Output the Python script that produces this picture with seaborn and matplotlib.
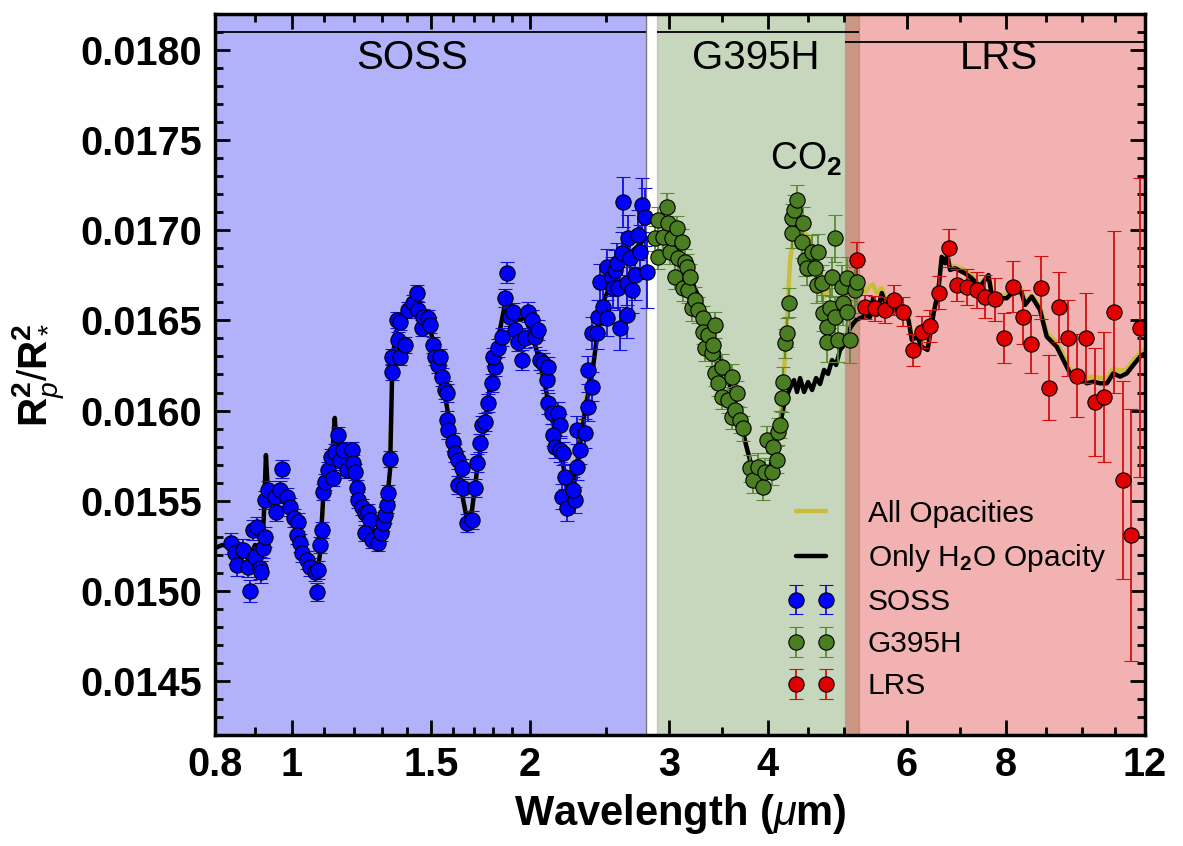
import matplotlib
matplotlib.use('Agg')
import matplotlib.pyplot as plt
import pandas as pd
import seaborn as sns
from matplotlib.lines import Line2D
from matplotlib.ticker import (FixedLocator, FixedFormatter, MultipleLocator,
                               NullFormatter, FormatStrFormatter)

sns.set_theme(style='ticks')
plt.rcParams['font.family'] = ['Liberation Sans', 'DejaVu Sans']
plt.rcParams['mathtext.fontset'] = 'custom'
plt.rcParams['mathtext.rm'] = 'Liberation Sans'
plt.rcParams['mathtext.it'] = 'Liberation Sans:italic'
plt.rcParams['mathtext.bf'] = 'Liberation Sans:bold'
plt.rcParams['text.color'] = 'black'
plt.rcParams['axes.labelcolor'] = 'black'

# NIRISS SOSS spectrum (wavelength in micron, transit depth Rp^2/R*^2)
soss_wl = [0.839, 0.848, 0.852, 0.869, 0.882, 0.886, 0.894, 0.903, 0.899, 0.912,
           0.916, 0.920, 0.925, 0.925, 0.934, 0.953, 0.957, 0.972, 0.967, 0.986,
           0.996, 1.006, 1.020, 1.015, 1.025, 1.030, 1.045, 1.055, 1.071, 1.081,
           1.076, 1.086, 1.091, 1.097, 1.102, 1.112, 1.123, 1.134, 1.128, 1.145,
           1.151, 1.162, 1.174, 1.191, 1.197, 1.203, 1.209, 1.214, 1.226, 1.238,
           1.250, 1.256, 1.238, 1.262, 1.287, 1.299, 1.306, 1.312, 1.319, 1.325,
           1.332, 1.338, 1.338, 1.358, 1.371, 1.364, 1.371, 1.391, 1.404, 1.425,
           1.439, 1.446, 1.460, 1.467, 1.489, 1.496, 1.510, 1.518, 1.532, 1.540,
           1.548, 1.563, 1.571, 1.571, 1.578, 1.601, 1.609, 1.625, 1.641, 1.625,
           1.649, 1.665, 1.690, 1.706, 1.714, 1.731, 1.739, 1.756, 1.773, 1.791,
           1.808, 1.799, 1.825, 1.843, 1.861, 1.870, 1.888, 1.906, 1.916, 1.935,
           1.954, 1.973, 1.992, 2.012, 2.031, 2.051, 2.061, 2.081, 2.101, 2.112,
           2.112, 2.133, 2.175, 2.185, 2.142, 2.153, 2.185, 2.206, 2.217, 2.196,
           2.228, 2.282, 2.271, 2.293, 2.315, 2.293, 2.349, 2.372, 2.396, 2.372,
           2.396, 2.431, 2.442, 2.454, 2.478, 2.503, 2.503, 2.539, 2.552, 2.564,
           2.577, 2.589, 2.601, 2.614, 2.627, 2.653, 2.653, 2.666, 2.678, 2.691,
           2.718, 2.744, 2.757, 2.771, 2.798, 2.812]
soss_depth = [0.015263, 0.015210, 0.015143, 0.015226, 0.015134, 0.015000, 0.015337, 0.015355, 0.015189, 0.015126,
              0.015106, 0.015236, 0.015300, 0.015504, 0.015559, 0.015522, 0.015439, 0.015674, 0.015559, 0.015522,
              0.015466, 0.015402, 0.015383, 0.015309, 0.015263, 0.015208, 0.015171, 0.015134, 0.015106, 0.015115,
              0.014995, 0.015254, 0.015337, 0.015550, 0.015605, 0.015670, 0.015744, 0.015772, 0.015624, 0.015864,
              0.015726, 0.015781, 0.015670, 0.015781, 0.015707, 0.015661, 0.015569, 0.015504, 0.015466, 0.015430,
              0.015439, 0.015393, 0.015319, 0.015282, 0.015263, 0.015319, 0.015374, 0.015420, 0.015476, 0.015541,
              0.015729, 0.016215, 0.016299, 0.016502, 0.016493, 0.016391, 0.016299, 0.016364, 0.016558, 0.016595,
              0.016650, 0.016558, 0.016458, 0.016521, 0.016512, 0.016475, 0.016364, 0.016299, 0.016253, 0.016299,
              0.016188, 0.016114, 0.016096, 0.015948, 0.015892, 0.015827, 0.015763, 0.015726, 0.015680, 0.015587,
              0.015569, 0.015374, 0.015393, 0.015569, 0.015707, 0.015818, 0.015920, 0.015938, 0.016040, 0.016151,
              0.016243, 0.016299, 0.016345, 0.016409, 0.016623, 0.016765, 0.016521, 0.016548, 0.016447, 0.016382,
              0.016280, 0.016401, 0.016548, 0.016502, 0.016410, 0.016447, 0.016280, 0.016262, 0.016169, 0.016243,
              0.016040, 0.015985, 0.015985, 0.015920, 0.015864, 0.015799, 0.015781, 0.015763, 0.015633, 0.015522,
              0.015458, 0.015504, 0.015559, 0.015688, 0.015781, 0.015892, 0.015874, 0.016021, 0.016132, 0.016225,
              0.016429, 0.016429, 0.016521, 0.016715, 0.016576, 0.016512, 0.016798, 0.016743, 0.016678, 0.016780,
              0.016817, 0.016678, 0.016456, 0.016872, 0.017158, 0.016706, 0.016530, 0.016956, 0.016845, 0.016669,
              0.016752, 0.016974, 0.016881, 0.017140, 0.017075, 0.016770]
soss_err = [0.00006, 0.00006, 0.00006, 0.00006, 0.00006, 0.00006, 0.000055, 0.000055, 0.000055, 0.00006,
            0.00006, 0.000055, 0.000055, 0.00005, 0.00005, 0.00005, 0.00005, 0.00005, 0.00005, 0.00005,
            0.00005, 0.00005, 0.00005, 0.00005, 0.00005, 0.00005, 0.00005, 0.00005, 0.00005, 0.00005,
            0.00005, 0.000045, 0.000045, 0.000045, 0.000045, 0.000045, 0.000045, 0.000045, 0.000045, 0.000045,
            0.000045, 0.000045, 0.000045, 0.000045, 0.000045, 0.000045, 0.000045, 0.000045, 0.000045, 0.000045,
            0.000045, 0.000045, 0.000045, 0.000045, 0.000045, 0.000045, 0.000045, 0.000045, 0.000045, 0.000045,
            0.000045, 0.000045, 0.000045, 0.000045, 0.000045, 0.000045, 0.000045, 0.000045, 0.000045, 0.000045,
            0.000045, 0.000045, 0.000045, 0.000045, 0.000045, 0.000045, 0.000045, 0.000045, 0.000045, 0.000045,
            0.00005, 0.00005, 0.00005, 0.00005, 0.00005, 0.00005, 0.00005, 0.00005, 0.00005, 0.00005,
            0.00005, 0.00005, 0.00005, 0.00005, 0.00005, 0.00005, 0.00005, 0.00005, 0.00005, 0.00005,
            0.00005, 0.00005, 0.00005, 0.00005, 0.00005, 0.00006, 0.00005, 0.00005, 0.00005, 0.00005,
            0.000055, 0.000055, 0.000055, 0.000055, 0.000055, 0.000055, 0.000055, 0.000055, 0.000055, 0.000055,
            0.00006, 0.00006, 0.00006, 0.00006, 0.00006, 0.000065, 0.000065, 0.000065, 0.00007, 0.00007,
            0.00007, 0.00007, 0.00007, 0.000075, 0.000075, 0.000075, 0.00008, 0.00008, 0.00008, 0.00008,
            0.00009, 0.00009, 0.00009, 0.0001, 0.0001, 0.0001, 0.0001, 0.00011, 0.00011, 0.00011,
            0.00011, 0.00012, 0.00012, 0.00012, 0.00014, 0.00012, 0.00013, 0.00013, 0.00013, 0.00013,
            0.00014, 0.00014, 0.00015, 0.00015, 0.00016, 0.0002]

# NIRSpec G395H spectrum
g395_wl = [2.881, 2.909, 2.909, 2.952, 2.981, 2.995, 3.009, 3.024, 3.053, 3.068,
           3.083, 3.113, 3.128, 3.144, 3.159, 3.174, 3.190, 3.206, 3.237, 3.268,
           3.316, 3.316, 3.332, 3.365, 3.398, 3.414, 3.431, 3.431, 3.464, 3.498,
           3.498, 3.568, 3.602, 3.602, 3.637, 3.655, 3.690, 3.719, 3.799, 3.836,
           3.893, 3.951, 3.969, 3.989, 4.047, 4.066, 4.106, 4.126, 4.146, 4.166,
           4.187, 4.207, 4.228, 4.260, 4.289, 4.289, 4.318, 4.352, 4.416, 4.437,
           4.460, 4.481, 4.547, 4.592, 4.614, 4.636, 4.681, 4.704, 4.750, 4.750,
           4.796, 4.819, 4.867, 4.867, 4.914, 4.962, 4.986, 5.035, 5.035, 5.084,
           5.159, 5.184]
g395_depth = [0.016956, 0.017057, 0.016853, 0.016964, 0.017131, 0.017039, 0.016881, 0.016956, 0.016743, 0.017011,
              0.016845, 0.016937, 0.016678, 0.016826, 0.016798, 0.016669, 0.016743, 0.016567, 0.016613, 0.016558,
              0.016512, 0.016437, 0.016345, 0.016419, 0.016317, 0.016364, 0.016475, 0.016207, 0.016151, 0.016243,
              0.016077, 0.016058, 0.016188, 0.015966, 0.016003, 0.016096, 0.015948, 0.015901, 0.015679, 0.015615,
              0.015688, 0.015577, 0.015661, 0.015837, 0.015661, 0.015799, 0.015726, 0.015883, 0.015920, 0.016068,
              0.016160, 0.016373, 0.016432, 0.016598, 0.016983, 0.017066, 0.017113, 0.017168, 0.016937, 0.017039,
              0.016835, 0.016789, 0.016881, 0.016789, 0.016696, 0.016881, 0.016706, 0.016539, 0.016465, 0.016382,
              0.016567, 0.016743, 0.016956, 0.016521, 0.016391, 0.016687, 0.016595, 0.016734, 0.016548, 0.016391,
              0.016669, 0.016715]
g395_err = [0.00007, 0.00007, 0.00007, 0.00007, 0.000075, 0.00007, 0.00007, 0.00007, 0.00007, 0.00007,
            0.00007, 0.00007, 0.00007, 0.00007, 0.00007, 0.00007, 0.00007, 0.00007, 0.00007, 0.00007,
            0.00007, 0.00007, 0.00007, 0.00007, 0.00007, 0.00007, 0.00007, 0.00007, 0.00007, 0.00007,
            0.00007, 0.00007, 0.00007, 0.00007, 0.00007, 0.00007, 0.00007, 0.00007, 0.000075, 0.000075,
            0.000075, 0.000075, 0.000075, 0.000075, 0.000075, 0.000075, 0.000075, 0.000075, 0.000075, 0.000075,
            0.00008, 0.00008, 0.00008, 0.00008, 0.00008, 0.00008, 0.000085, 0.000085, 0.00009, 0.00009,
            0.00009, 0.00009, 0.000095, 0.000095, 0.0001, 0.0001, 0.0001, 0.0001, 0.00011, 0.00011,
            0.00011, 0.00011, 0.00013, 0.00011, 0.00012, 0.00012, 0.00012, 0.00012, 0.00012, 0.00013,
            0.00013, 0.00013]

# MIRI LRS spectrum
lrs_wl = [5.184, 5.311, 5.468, 5.630, 5.770, 5.936, 6.108, 6.264, 6.418, 6.594,
          6.788, 6.948, 7.141, 7.350, 7.532, 7.755, 7.967, 8.178, 8.403, 8.621,
          8.857, 9.082, 9.334, 9.582, 9.836, 10.10, 10.38, 10.66, 10.97, 11.24,
          11.52, 11.83]
lrs_depth = [0.016835, 0.016576, 0.016567, 0.016558, 0.016613, 0.016548, 0.016336, 0.016437, 0.016469, 0.016654,
             0.016900, 0.016696, 0.016687, 0.016669, 0.016632, 0.016617, 0.016401, 0.016687, 0.016521, 0.016369,
             0.016681, 0.016126, 0.016573, 0.016404, 0.016192, 0.016401, 0.016046, 0.016074, 0.016548, 0.015615,
             0.015309, 0.016459]
lrs_err = [0.0001, 0.000067, 0.00007, 0.00007, 0.000085, 0.00008, 0.00009, 0.00009, 0.00009, 0.00009,
           0.000105, 0.00009, 0.0001, 0.0001, 0.00012, 0.00012, 0.00014, 0.00014, 0.00015, 0.00016,
           0.000175, 0.00018, 0.000195, 0.00021, 0.00023, 0.00025, 0.0003, 0.00036, 0.00045, 0.00055,
           0.0007, 0.00083]

# best-fit models
model_wl = [0.800, 0.817, 0.835, 0.860, 0.883, 0.899, 0.917, 0.922, 0.928, 0.934,
            0.953, 0.972, 0.996, 1.013, 1.030, 1.055, 1.077, 1.086, 1.096, 1.108,
            1.124, 1.134, 1.141, 1.158, 1.179, 1.200, 1.220, 1.242, 1.264, 1.285,
            1.304, 1.319, 1.332, 1.340, 1.351, 1.371, 1.391, 1.411, 1.436, 1.462,
            1.489, 1.514, 1.540, 1.567, 1.596, 1.623, 1.648, 1.667, 1.691, 1.716,
            1.741, 1.772, 1.803, 1.834, 1.866, 1.894, 1.933, 1.973, 2.014, 2.049,
            2.091, 2.135, 2.172, 2.211, 2.243, 2.276, 2.315, 2.356, 2.398, 2.440,
            2.483, 2.541, 2.601, 2.665, 2.725, 2.790, 2.856, 2.923, 2.992, 3.062,
            3.135, 3.210, 3.284, 3.362, 3.441, 3.522, 3.605, 3.690, 3.755, 3.822,
            3.889, 3.957, 4.027, 4.086, 4.146, 4.207, 4.269, 4.318, 4.357, 4.395,
            4.447, 4.499, 4.552, 4.605, 4.658, 4.713, 4.768, 4.824, 4.881, 4.938,
            4.996, 5.055, 5.114, 5.174, 5.234, 5.327, 5.389, 5.437, 5.494, 5.576,
            5.658, 5.796, 5.910, 6.027, 6.086, 6.177, 6.264, 6.371, 6.484, 6.575,
            6.639, 6.704, 6.749, 6.802, 6.902, 7.106, 7.245, 7.423, 7.606, 7.680,
            7.868, 8.023, 8.219, 8.381, 8.462, 8.629, 8.839, 9.013, 9.279, 9.507,
            9.646, 9.883, 10.13, 10.32, 10.53, 10.74, 10.94, 11.16, 11.38, 11.60,
            11.88, 12.00]
model_h2o = [0.015237, 0.015254, 0.015248, 0.015226, 0.015171, 0.015254, 0.015237, 0.015393, 0.015753, 0.015531,
             0.015520, 0.015531, 0.015487, 0.015393, 0.015254, 0.015154, 0.015104, 0.015199, 0.015504, 0.015626,
             0.015714, 0.015959, 0.015781, 0.015809, 0.015670, 0.015615, 0.015504, 0.015437, 0.015354, 0.015282,
             0.015309, 0.015476, 0.015670, 0.016197, 0.016419, 0.016486, 0.016530, 0.016586, 0.016613, 0.016547,
             0.016491, 0.016364, 0.016253, 0.016058, 0.015837, 0.015670, 0.015504, 0.015393, 0.015448, 0.015670,
             0.015837, 0.016058, 0.016280, 0.016447, 0.016613, 0.016586, 0.016502, 0.016513, 0.016419, 0.016308,
             0.016142, 0.015948, 0.015837, 0.015670, 0.015548, 0.015587, 0.015809, 0.016031, 0.016197, 0.016447,
             0.016613, 0.016713, 0.016807, 0.016863, 0.016902, 0.016946, 0.016963, 0.016957, 0.016968, 0.016919,
             0.016824, 0.016713, 0.016613, 0.016491, 0.016364, 0.016236, 0.016103, 0.015959, 0.015809, 0.015681,
             0.015615, 0.015626, 0.015681, 0.015792, 0.015920, 0.016058, 0.016125, 0.016169, 0.016103, 0.016180,
             0.016103, 0.016158, 0.016114, 0.016180, 0.016147, 0.016225, 0.016203, 0.016280, 0.016253, 0.016336,
             0.016364, 0.016436, 0.016474, 0.016502, 0.016513, 0.016524, 0.016519, 0.016624, 0.016530, 0.016652,
             0.016569, 0.016558, 0.016567, 0.016502, 0.016391, 0.016410, 0.016354, 0.016336, 0.016539, 0.016669,
             0.016853, 0.016817, 0.016863, 0.016780, 0.016789, 0.016761, 0.016734, 0.016687, 0.016752, 0.016641,
             0.016623, 0.016623, 0.016669, 0.016650, 0.016586, 0.016632, 0.016558, 0.016410, 0.016354, 0.016262,
             0.016206, 0.016188, 0.016151, 0.016160, 0.016151, 0.016151, 0.016206, 0.016188, 0.016206, 0.016253,
             0.016308, 0.016314]
model_all = [0.015237, 0.015254, 0.015248, 0.015226, 0.015171, 0.015254, 0.015237, 0.015393, 0.015753, 0.015531,
             0.015520, 0.015531, 0.015487, 0.015393, 0.015254, 0.015154, 0.015104, 0.015199, 0.015504, 0.015626,
             0.015714, 0.015959, 0.015781, 0.015809, 0.015670, 0.015615, 0.015504, 0.015437, 0.015354, 0.015282,
             0.015309, 0.015476, 0.015670, 0.016197, 0.016419, 0.016486, 0.016530, 0.016586, 0.016613, 0.016547,
             0.016491, 0.016364, 0.016253, 0.016058, 0.015837, 0.015670, 0.015504, 0.015393, 0.015448, 0.015670,
             0.015837, 0.016058, 0.016280, 0.016447, 0.016613, 0.016586, 0.016502, 0.016513, 0.016419, 0.016308,
             0.016142, 0.015948, 0.015837, 0.015670, 0.015590, 0.015650, 0.015860, 0.016070, 0.016197, 0.016447,
             0.016613, 0.016713, 0.016807, 0.016863, 0.016902, 0.016946, 0.016963, 0.016957, 0.016968, 0.016919,
             0.016824, 0.016713, 0.016613, 0.016491, 0.016364, 0.016236, 0.016103, 0.015959, 0.015809, 0.015681,
             0.015615, 0.015626, 0.015681, 0.015792, 0.015920, 0.016300, 0.016835, 0.016970, 0.016990, 0.016990,
             0.016985, 0.016970, 0.016900, 0.016780, 0.016670, 0.016630, 0.016670, 0.016700, 0.016710, 0.016720,
             0.016735, 0.016720, 0.016710, 0.016695, 0.016708, 0.016660, 0.016690, 0.016700, 0.016650, 0.016680,
             0.016600, 0.016586, 0.016586, 0.016520, 0.016410, 0.016430, 0.016370, 0.016350, 0.016550, 0.016680,
             0.016850, 0.016830, 0.016860, 0.016800, 0.016800, 0.016780, 0.016750, 0.016700, 0.016750, 0.016660,
             0.016640, 0.016640, 0.016680, 0.016670, 0.016600, 0.016640, 0.016580, 0.016430, 0.016380, 0.016290,
             0.016230, 0.016210, 0.016180, 0.016190, 0.016180, 0.016180, 0.016230, 0.016220, 0.016230, 0.016280,
             0.016330, 0.016340]

# instrument bands: name, start, end, label position, bracket level
band_names = ['SOSS', 'G395H', 'LRS']
band_start = [0.8, 2.90, 5.01]
band_end = [2.81, 5.22, 12.0]
band_label_wl = [1.419, 3.866, 7.845]
band_bracket = [0.018100, 0.018100, 0.018045]
band_fill = ['#B2B2FA', (72 / 255, 125 / 255, 38 / 255), (215 / 255, 0, 0)]
band_alpha = [1.0, 0.3, 0.3]

xticks = [0.8, 1, 1.5, 2, 3, 4, 6, 8, 12]
xticklabels = ['0.8', '1', '1.5', '2', '3', '4', '6', '8', '12']
xminor = [0.9, 1.1, 1.2, 1.3, 1.4, 1.6, 1.7, 1.8, 1.9, 2.5, 3.5, 4.5, 5, 7, 9, 10, 11]

models = pd.DataFrame({'wl': model_wl, 'all': model_all, 'h2o': model_h2o})

fig = plt.figure(figsize=(11.83, 8.46), dpi=100)
ax = fig.add_axes([0.1817, 0.1312, 0.7862, 0.8523])
ax.set_xscale('log')

# shaded instrument ranges
for i in range(3):
    ax.axvspan(band_start[i], band_end[i], facecolor=band_fill[i], alpha=band_alpha[i],
               edgecolor='#7a7a7a', lw=1, zorder=0)
    ax.hlines(band_bracket[i], band_start[i], band_end[i], color='black', lw=1.3, zorder=6)
    ax.text(band_label_wl[i], 0.017893, band_names[i], ha='center', va='baseline',
            fontsize=29, color='black', zorder=6)

# models
sns.lineplot(data=models, x='wl', y='all', color='#C8BE3C', lw=3.2, ax=ax,
             estimator=None, zorder=2)
sns.lineplot(data=models, x='wl', y='h2o', color='black', lw=3.2, ax=ax,
             estimator=None, zorder=3)

# data
pt = dict(fmt='o', ms=11, mec='black', mew=0.8, elinewidth=1.3, capsize=5, capthick=1.3)
eb_soss = ax.errorbar(soss_wl, soss_depth, yerr=soss_err, mfc='#0000FF', ecolor='#1010E0', zorder=4, **pt)
eb_g395 = ax.errorbar(g395_wl, g395_depth, yerr=g395_err, mfc='#4B7D23', ecolor='#5A8A35', zorder=4, **pt)
eb_lrs = ax.errorbar(lrs_wl, lrs_depth, yerr=lrs_err, mfc='#E00000', ecolor='#D01010', zorder=4, **pt)

ax.text(4.027, 0.017334, r'CO$_\mathbf{2}$', ha='left', va='baseline', fontsize=27,
        color='black', zorder=6)

handles = [Line2D([], [], color='#C8BE3C', lw=3.2), Line2D([], [], color='black', lw=3.2),
           eb_soss, eb_g395, eb_lrs]
labels = ['All Opacities', r'Only H$_\mathbf{2}$O Opacity', 'SOSS', 'G395H', 'LRS']
leg = ax.legend(handles, labels, loc='upper left', bbox_to_anchor=(0.615, 0.326), frameon=False,
                fontsize=21.5, handlelength=1.6, handletextpad=1.1, labelspacing=0.47,
                numpoints=2, borderpad=0, borderaxespad=0)
for t in leg.get_texts():
    t.set_color('black')

ax.set_xlim(0.8, 12)
ax.set_ylim(0.0142, 0.0182)
ax.xaxis.set_major_locator(FixedLocator(xticks))
ax.xaxis.set_major_formatter(FixedFormatter(xticklabels))
ax.xaxis.set_minor_locator(FixedLocator(xminor))
ax.xaxis.set_minor_formatter(NullFormatter())
ax.yaxis.set_major_locator(MultipleLocator(0.0005))
ax.yaxis.set_minor_locator(MultipleLocator(0.0001))
ax.yaxis.set_major_formatter(FormatStrFormatter('%.4f'))

ax.tick_params(which='both', direction='in', top=True, right=True, width=2, color='black')
ax.tick_params(which='major', length=11, labelsize=28.5, labelcolor='black')
ax.tick_params(axis='y', which='major', pad=9)
ax.tick_params(axis='x', which='major', pad=8)
ax.tick_params(which='minor', length=6)
plt.setp(ax.get_xticklabels(), fontweight='bold')
plt.setp(ax.get_yticklabels(), fontweight='bold')
for s in ax.spines.values():
    s.set_linewidth(2.5)
    s.set_color('black')
    s.set_zorder(7)

ax.set_xlabel(r'Wavelength ($\mu$m)', fontsize=30, fontweight='bold', color='black', labelpad=6)
ax.set_ylabel(r'$\mathbf{R}_p^\mathbf{2}/\mathbf{R}_*^\mathbf{2}$', fontsize=29, color='black', labelpad=10)

fig.savefig('out.png', dpi=100)
